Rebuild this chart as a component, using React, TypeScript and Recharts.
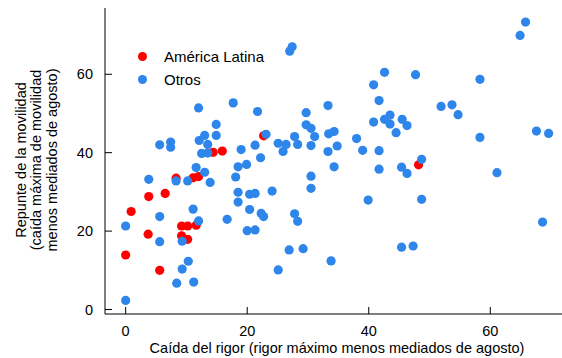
import React from "react";
import {
    ScatterChart,
    Scatter,
    XAxis,
    YAxis,
    Legend,
} from "recharts";

// [rigor drop, mobility rebound] pairs
const latinAmerica = [
    { x: 14.4, y: 40.1 }, { x: 15.9, y: 40.4 }, { x: 11.1, y: 33.6 }, { x: 12.0, y: 33.9 },
    { x: 8.3, y: 33.5 }, { x: 3.8, y: 28.8 }, { x: 6.5, y: 29.6 }, { x: 0.9, y: 25.0 },
    { x: 9.2, y: 21.3 }, { x: 10.2, y: 21.3 }, { x: 11.6, y: 21.5 }, { x: 3.7, y: 19.2 },
    { x: 9.2, y: 18.8 }, { x: 10.2, y: 17.9 }, { x: 0.0, y: 13.9 }, { x: 5.6, y: 10.0 },
    { x: 22.7, y: 44.3 }, { x: 48.2, y: 36.9 },
];

const others = [
    { x: 12.0, y: 51.4 }, { x: 17.7, y: 52.7 }, { x: 21.7, y: 50.5 }, { x: 14.9, y: 47.2 },
    { x: 13.0, y: 44.4 }, { x: 14.9, y: 44.4 }, { x: 12.1, y: 43.1 }, { x: 13.5, y: 42.1 },
    { x: 5.6, y: 42.0 }, { x: 7.4, y: 42.7 }, { x: 7.4, y: 41.4 }, { x: 21.3, y: 41.9 },
    { x: 12.5, y: 39.8 }, { x: 13.5, y: 39.9 }, { x: 19.0, y: 40.8 }, { x: 22.2, y: 38.7 },
    { x: 11.6, y: 36.2 }, { x: 13.0, y: 35.0 }, { x: 19.9, y: 37.0 }, { x: 18.5, y: 36.4 },
    { x: 8.3, y: 32.8 }, { x: 10.2, y: 32.8 }, { x: 13.9, y: 32.4 }, { x: 18.1, y: 33.8 },
    { x: 3.8, y: 33.2 }, { x: 18.5, y: 29.9 }, { x: 20.4, y: 29.4 }, { x: 21.3, y: 29.6 },
    { x: 18.5, y: 27.4 }, { x: 11.1, y: 25.6 }, { x: 5.6, y: 23.7 }, { x: 20.4, y: 25.5 },
    { x: 12.0, y: 22.6 }, { x: 16.7, y: 23.0 }, { x: 0.0, y: 21.3 }, { x: 20.0, y: 20.1 },
    { x: 21.3, y: 20.3 }, { x: 9.3, y: 17.4 }, { x: 5.6, y: 17.3 }, { x: 10.3, y: 12.3 },
    { x: 9.3, y: 10.3 }, { x: 8.4, y: 6.7 }, { x: 11.2, y: 7.0 }, { x: 0.0, y: 2.3 },
    { x: 27.0, y: 65.9 }, { x: 27.4, y: 67.0 }, { x: 42.6, y: 60.5 }, { x: 40.8, y: 57.3 },
    { x: 41.7, y: 53.3 }, { x: 29.7, y: 50.2 }, { x: 33.3, y: 52.0 }, { x: 29.7, y: 47.1 },
    { x: 30.5, y: 46.2 }, { x: 31.1, y: 44.1 }, { x: 33.4, y: 44.8 }, { x: 34.3, y: 45.4 },
    { x: 34.8, y: 41.7 }, { x: 33.3, y: 40.3 }, { x: 38.0, y: 43.6 }, { x: 39.0, y: 40.6 },
    { x: 41.7, y: 40.5 }, { x: 41.7, y: 35.8 }, { x: 34.3, y: 36.4 }, { x: 30.5, y: 34.0 },
    { x: 30.5, y: 30.9 }, { x: 23.1, y: 44.7 }, { x: 27.8, y: 44.1 }, { x: 25.1, y: 42.4 },
    { x: 26.4, y: 42.1 }, { x: 28.3, y: 42.1 }, { x: 30.5, y: 41.8 }, { x: 25.9, y: 40.3 },
    { x: 24.1, y: 30.2 }, { x: 39.9, y: 27.9 }, { x: 22.3, y: 24.5 }, { x: 22.7, y: 23.7 },
    { x: 27.8, y: 24.4 }, { x: 28.3, y: 22.5 }, { x: 26.9, y: 15.2 }, { x: 29.2, y: 15.5 },
    { x: 33.8, y: 12.4 }, { x: 25.1, y: 10.1 }, { x: 45.4, y: 15.9 }, { x: 47.3, y: 16.2 },
    { x: 40.8, y: 47.8 }, { x: 42.6, y: 48.5 }, { x: 43.5, y: 49.6 }, { x: 43.5, y: 47.3 },
    { x: 45.5, y: 48.5 }, { x: 46.3, y: 46.9 }, { x: 44.5, y: 45.1 }, { x: 45.4, y: 36.3 },
    { x: 46.3, y: 34.7 }, { x: 65.8, y: 73.3 }, { x: 64.9, y: 69.9 }, { x: 47.7, y: 59.9 },
    { x: 58.3, y: 58.7 }, { x: 51.9, y: 51.8 }, { x: 53.7, y: 52.2 }, { x: 54.7, y: 49.7 },
    { x: 58.3, y: 43.9 }, { x: 67.6, y: 45.5 }, { x: 69.6, y: 44.9 }, { x: 48.7, y: 38.3 },
    { x: 61.1, y: 34.9 }, { x: 48.7, y: 28.1 }, { x: 68.6, y: 22.3 },
];

const xTicks = [0, 20, 40, 60];
const yTicks = [0, 20, 40, 60];

const RED = "#ff0000";
const BLUE = "#2f86ea";
const FONT = "'Liberation Sans', Arial, sans-serif";
const FONT_SIZE = 14.5;

const dot = (color: string) => (props: any) => (
    <circle cx={props.cx} cy={props.cy} r={4.6} fill={color} />
);

const legendItems = [
    { label: "América Latina", color: RED },
    { label: "Otros", color: BLUE },
];

function renderLegend() {
    return (
        <div style={{ fontFamily: FONT, fontSize: 15, color: "#000" }}>
            {legendItems.map((item) => (
                <div key={item.label} style={{ display: "flex", alignItems: "center", height: 23 }}>
                    <span
                        style={{
                            display: "inline-block",
                            width: 9,
                            height: 9,
                            borderRadius: "50%",
                            background: item.color,
                            marginRight: 17,
                        }}
                    />
                    <span>{item.label}</span>
                </div>
            ))}
        </div>
    );
}

// three-line rotated title on the left
function YTitle() {
    const lines = [
        "Repunte de la movilidad",
        "(caída máxima de movilidad",
        "menos mediados de agosto)",
    ];
    const baselines = [25.5, 41, 56.5];
    return (
        <g>
            {lines.map((line, i) => (
                <text
                    key={i}
                    transform={`translate(${baselines[i]}, 160) rotate(-90)`}
                    textAnchor="middle"
                    fontFamily={FONT}
                    fontSize={FONT_SIZE}
                    fill="#000"
                >
                    {line}
                </text>
            ))}
        </g>
    );
}

function XTitle() {
    return (
        <text x={337} y={353} textAnchor="middle" fontFamily={FONT} fontSize={FONT_SIZE} fill="#000">
            Caída del rigor (rigor máximo menos mediados de agosto)
        </text>
    );
}

export default function App() {
    const tick = { fontFamily: FONT, fontSize: FONT_SIZE, fill: "#000" };
    return (
        <div style={{ position: "relative", width: 562, height: 358, background: "#fff" }}>
            <style>{`body { margin: 0; }`}</style>
            <ScatterChart width={562} height={358} margin={{ top: 8, right: 0, bottom: 0, left: 0 }}>
                <XAxis
                    xAxisId="top"
                    orientation="top"
                    type="number"
                    dataKey="x"
                    domain={[-3.4, 71.8]}
                    height={0}
                    tick={false}
                    tickLine={false}
                    axisLine={{ stroke: "#666" }}
                />
                <XAxis
                    type="number"
                    dataKey="x"
                    domain={[-3.4, 71.8]}
                    ticks={xTicks}
                    height={44}
                    tickSize={-7}
                    tickMargin={19}
                    tick={tick}
                    tickLine={{ stroke: "#000" }}
                    axisLine={{ stroke: "#000" }}
                    label={{ content: XTitle }}
                />
                <YAxis
                    type="number"
                    dataKey="y"
                    domain={[-1.15, 76.9]}
                    ticks={yTicks}
                    width={105}
                    tickSize={-7}
                    tickMargin={19}
                    tick={tick}
                    tickLine={{ stroke: "#000" }}
                    axisLine={{ stroke: "#000" }}
                    label={{ content: YTitle }}
                />
                <Legend
                    layout="vertical"
                    align="center"
                    verticalAlign="middle"
                    content={renderLegend}
                    wrapperStyle={{ top: 44.5, left: 138, width: "auto", height: "auto" }}
                />
                <Scatter
                    name="América Latina"
                    data={latinAmerica}
                    fill={RED}
                    shape={dot(RED)}
                    isAnimationActive={false}
                />
                <Scatter
                    name="Otros"
                    data={others}
                    fill={BLUE}
                    shape={dot(BLUE)}
                    isAnimationActive={false}
                />
            </ScatterChart>
        </div>
    );
}
